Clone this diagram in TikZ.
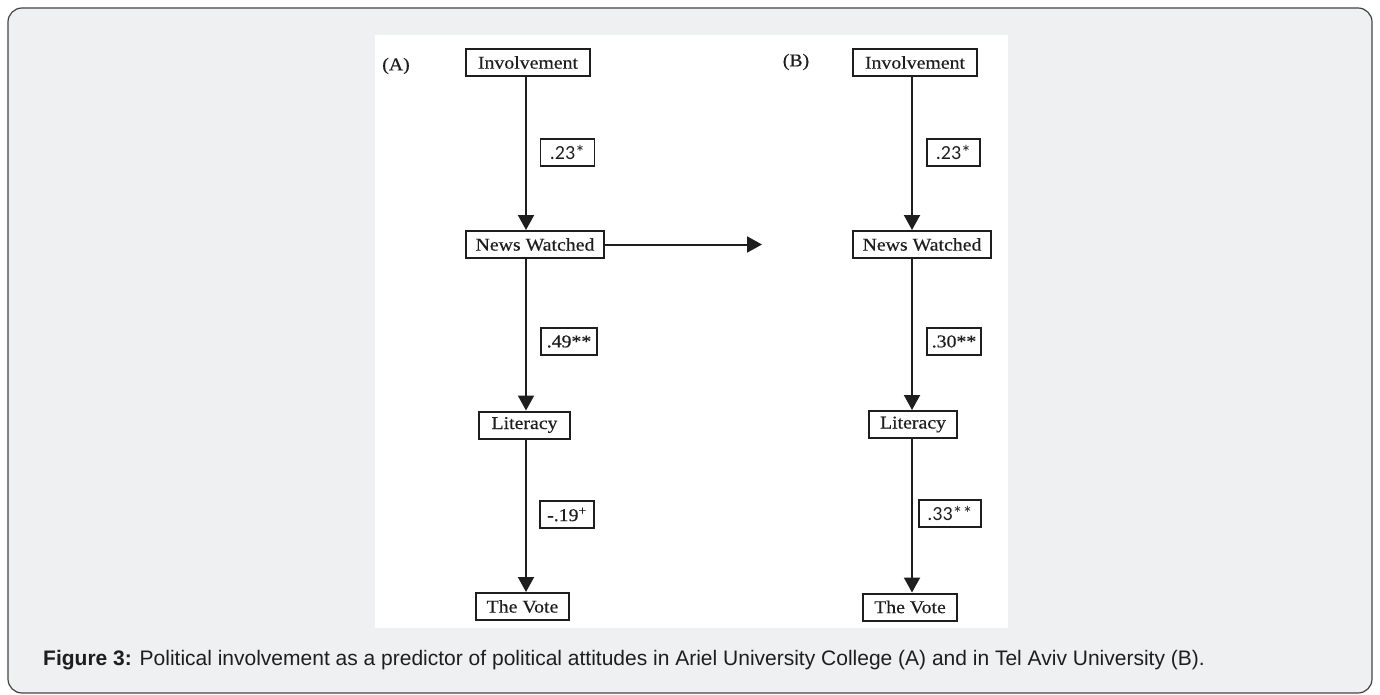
\documentclass[tikz,border=0pt]{standalone}
\usepackage{fontspec}
\setmainfont{Liberation Serif}[FakeStretch=1.1,FakeBold=0.4]
\newfontfamily\lblfont{Carlito}
\newfontfamily\capfont{Liberation Sans}
\usetikzlibrary{arrows.meta}
\definecolor{bggray}{HTML}{EFF0F2}
\definecolor{bordergray}{HTML}{444444}
\definecolor{ink}{HTML}{1E1E1E}
\begin{document}
\begin{tikzpicture}[x=1pt,y=-1pt,
  var/.style={draw=ink,text=ink,line width=2pt,fill=white,inner sep=0pt,minimum height=27pt,font=\fontsize{18}{20}\selectfont},
  coefsans/.style={draw=ink,text=ink,line width=1.8pt,fill=white,inner sep=0pt,minimum height=27pt,font=\lblfont\fontsize{20}{22}\selectfont},
  coefserif/.style={draw=ink,text=ink,line width=1.8pt,fill=white,inner sep=0pt,minimum height=27pt,font=\fontsize{18}{20}\selectfont},
  arr/.style={draw=ink,line width=2pt,-{Triangle[length=15pt,width=16pt]}},
  panel/.style={text=ink,font=\fontsize{18}{20}\selectfont}]
\useasboundingbox (0,0) rectangle (1380,695);
\draw[fill=bggray,draw=bordergray,line width=1.2pt,rounded corners=14pt] (8,8) rectangle (1372,693);
\fill[white] (375,35) rectangle (1008,628);
% Panel A
\node[panel] (labA) at (396,66) {(A)};
\node[var,minimum width=124pt] (ainv) at (528,62.5) {Involvement};
\node[var,minimum width=138pt] (anews) at (535,244.5) {News Watched};
\node[var,minimum width=91pt] (alit) at (524.5,425) {Literacy};
\node[var,minimum width=93pt] (avote) at (522.5,606.5) {The Vote};
\coordinate (ax) at (526,0);
\coordinate (aend) at (762,244.5);
\draw[arr] (ainv.south -| ax) -- (anews.north -| ax);
\draw[arr] (anews.south -| ax) -- (alit.north -| ax);
\draw[arr] (alit.south -| ax) -- (avote.north -| ax);
\draw[arr] (anews.east) -- (aend);
\node[coefsans,minimum width=54pt] (a1) at (567.5,152.5) {.23*};
\node[coefserif,minimum width=56pt] (a2) at (569,341.5) {.49**};
\node[coefserif,minimum width=54pt] (a3) at (567,514.5) {-.19\textsuperscript{+}};
% Panel B
\node[panel] (labB) at (796,62) {(B)};
\node[var,minimum width=124pt] (binv) at (915,62.5) {Involvement};
\node[var,minimum width=138pt] (bnews) at (922,244.5) {News Watched};
\node[var,minimum width=88pt] (blit) at (913,424.5) {Literacy};
\node[var,minimum width=94pt] (bvote) at (910,607) {The Vote};
\coordinate (bx) at (912,0);
\draw[arr] (binv.south -| bx) -- (bnews.north -| bx);
\draw[arr] (bnews.south -| bx) -- (blit.north -| bx);
\draw[arr] (blit.south -| bx) -- (bvote.north -| bx);
\node[coefsans,minimum width=53pt] (b1) at (953.5,152.5) {.23*};
\node[coefserif,minimum width=54pt] (b2) at (954,341.5) {.30**};
\node[coefsans,minimum width=62pt] (b3) at (950,513.5) {.33**};
% Caption
\node[anchor=base west,inner sep=0pt,text=ink,font=\capfont\fontsize{21}{24}\selectfont] (cap) at (43,665) {\textbf{Figure 3:} Political involvement as a predictor of political attitudes in Ariel University College (A) and in Tel Aviv University (B).};
\end{tikzpicture}
\end{document}
